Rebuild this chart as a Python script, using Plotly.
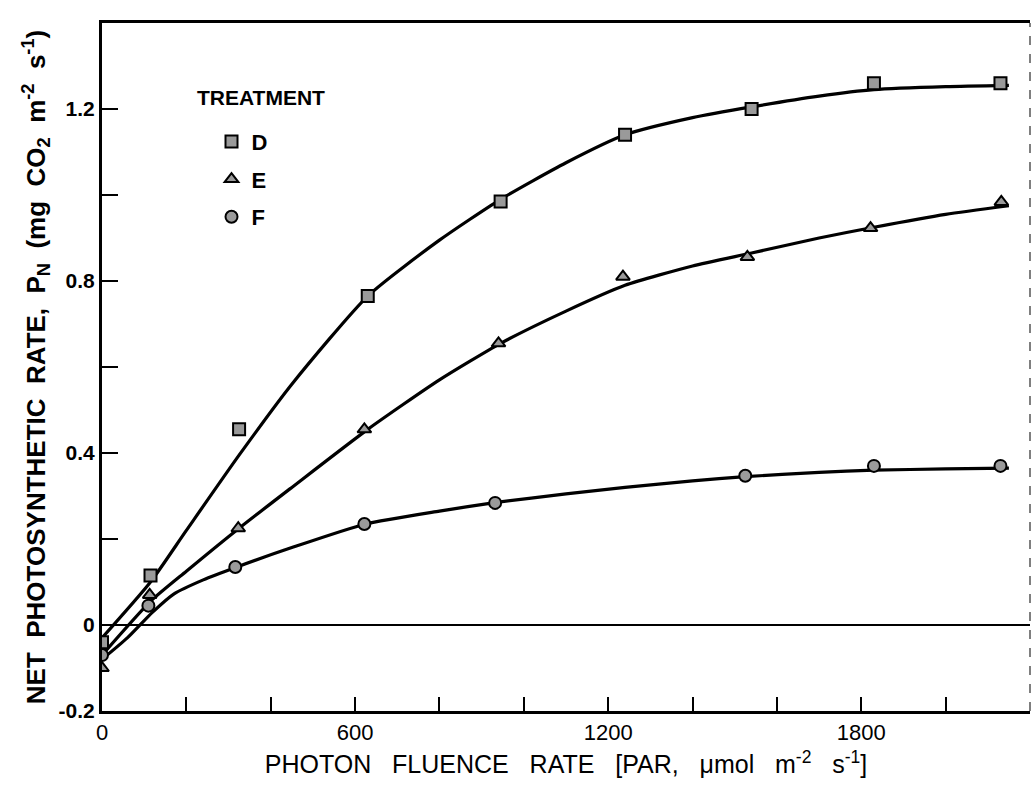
import plotly.graph_objects as go

# ---- data ----
x_D = [0, 115, 325, 630, 945, 1240, 1540, 1830, 2130]
y_D = [-0.04, 0.115, 0.455, 0.765, 0.985, 1.14, 1.20, 1.26, 1.26]

x_E = [0, 113, 323, 622, 940, 1235, 1530, 1822, 2132]
y_E = [-0.10, 0.07, 0.225, 0.455, 0.655, 0.81, 0.856, 0.923, 0.984]

x_F = [0, 110, 316, 622, 932, 1525, 1830, 2130]
y_F = [-0.07, 0.045, 0.135, 0.235, 0.284, 0.347, 0.37, 0.37]

# fitted curves
cx_D = [0, 115, 200, 325, 450, 630, 800, 945, 1100, 1240, 1400, 1540, 1700, 1830, 2000, 2150]
cy_D = [-0.03, 0.10, 0.22, 0.395, 0.56, 0.765, 0.895, 0.99, 1.075, 1.14, 1.18, 1.205, 1.23, 1.245, 1.252, 1.255]
cx_E = [0, 115, 200, 325, 450, 630, 800, 945, 1100, 1240, 1400, 1540, 1700, 1830, 2000, 2150]
cy_E = [-0.07, 0.055, 0.125, 0.225, 0.32, 0.455, 0.57, 0.655, 0.73, 0.79, 0.835, 0.865, 0.9, 0.925, 0.955, 0.975]
cx_F = [0, 60, 120, 170, 240, 320, 450, 625, 800, 935, 1100, 1240, 1400, 1525, 1700, 1830, 2000, 2150]
cy_F = [-0.08, -0.03, 0.03, 0.072, 0.105, 0.135, 0.18, 0.235, 0.265, 0.285, 0.305, 0.32, 0.335, 0.345, 0.355, 0.36, 0.363, 0.365]

series = [
    ("D", x_D, y_D, cx_D, cy_D, "square"),
    ("E", x_E, y_E, cx_E, cy_E, "triangle-up"),
    ("F", x_F, y_F, cx_F, cy_F, "circle"),
]

x_tickvals = list(range(0, 2201, 200))
x_ticktext = ["0", "", "", "600", "", "", "1200", "", "", "1800", "", ""]
y_tickvals = [-0.2, 0, 0.2, 0.4, 0.6, 0.8, 1.0, 1.2]
y_ticktext = ["<b>-0.2</b>", "<b>0</b>", "", "<b>0.4</b>", "", "<b>0.8</b>", "", "<b>1.2</b>"]

fig = go.Figure()
for name, xs, ys, cxs, cys, sym in series:
    fig.add_trace(go.Scatter(x=cxs, y=cys, mode="lines",
                             line=dict(color="black", width=3.2, shape="spline", smoothing=0.6),
                             showlegend=False, hoverinfo="skip"))
for name, xs, ys, cxs, cys, sym in series:
    fig.add_trace(go.Scatter(x=xs, y=ys, mode="markers", name="<b>" + name + "</b>", legendgroup=name,
                             marker=dict(symbol=sym, size=12, color="#9a9a9a",
                                         line=dict(color="black", width=2))))

font_main = "Liberation Sans, Arial, sans-serif"
sp = "\u00a0\u00a0"
sp3 = "\u00a0\u00a0\u00a0"

fig.update_layout(
    width=1035, height=791,
    margin=dict(l=102, r=5, t=23, b=80),
    paper_bgcolor="white", plot_bgcolor="white",
    font=dict(family=font_main, color="black"),
    showlegend=True,
    legend=dict(x=0.118, y=0.858, xanchor="left", yanchor="top",
                font=dict(size=22), bgcolor="rgba(0,0,0,0)", itemsizing="constant",
                tracegroupgap=6),
    xaxis=dict(range=[0, 2200], tickvals=x_tickvals, ticktext=x_ticktext,
               ticks="inside", ticklen=14, tickwidth=1.5, tickcolor="black",
               showline=True, linecolor="black", linewidth=3, mirror=True,
               showgrid=False, zeroline=False,
               tickfont=dict(size=22, family=font_main),
               title=dict(text=sp3.join(["PHOTON", "FLUENCE", "RATE", "[PAR,", "μmol", "m<sup>-2</sup>", "s<sup>-1</sup>]"]),
                          font=dict(size=25, family=font_main), standoff=12)),
    yaxis=dict(range=[-0.2, 1.4], tickvals=y_tickvals, ticktext=y_ticktext,
               ticks="inside", ticklen=16, tickwidth=2, tickcolor="black",
               showline=True, linecolor="black", linewidth=3,
               showgrid=False, zeroline=True, zerolinecolor="black", zerolinewidth=2,
               tickfont=dict(size=21, family=font_main),
               title=dict(text="<b>" + sp.join(["NET", "PHOTOSYNTHETIC", "RATE,", "P<sub>N</sub>", "(mg", "CO<sub>2</sub>", "m<sup>-2</sup>", "s<sup>-1</sup>)"]) + "</b>",
                          font=dict(size=26, family=font_main), standoff=6)),
)

fig.add_annotation(text="<b>TREATMENT</b>", xref="paper", yref="paper", x=0.1, y=0.892,
                   xanchor="left", yanchor="middle", showarrow=False,
                   font=dict(size=21, family=font_main))

# faint dashed right border
fig.add_shape(type="line", xref="paper", yref="paper", x0=1, x1=1, y0=0, y1=1,
              line=dict(color="#555555", width=1.5, dash="dash"))

fig.write_html("out.html")
